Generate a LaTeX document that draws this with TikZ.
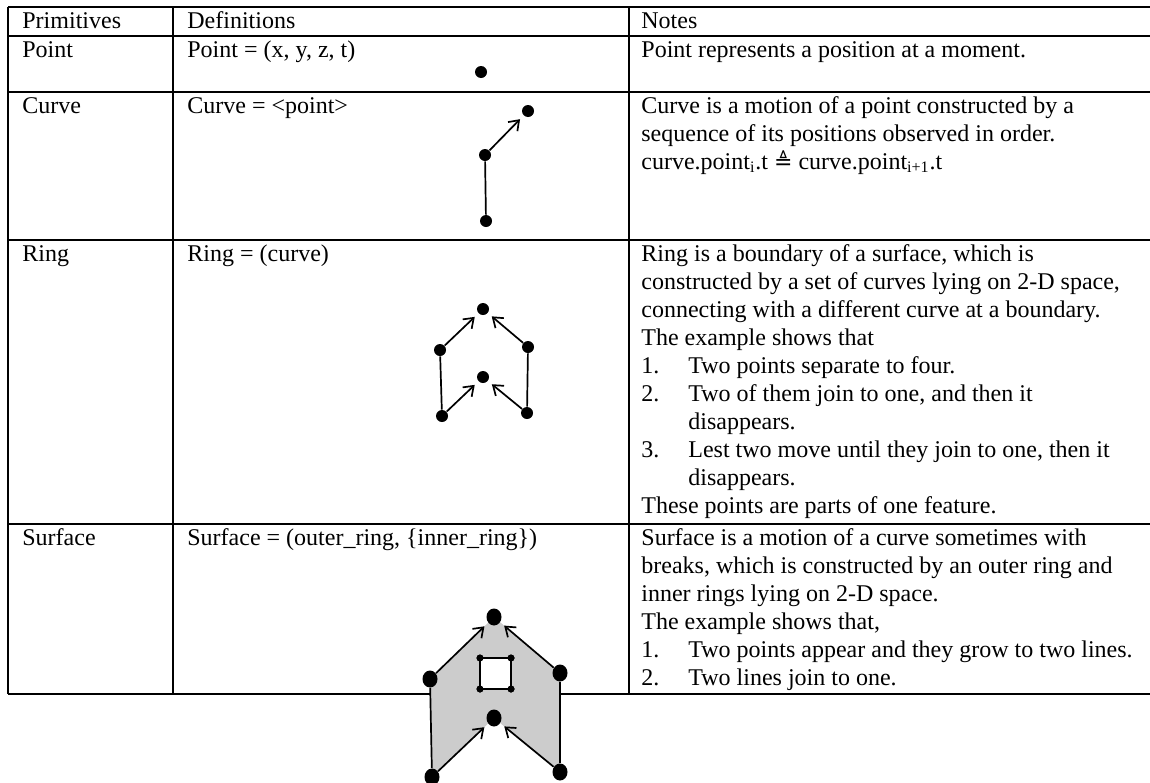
\documentclass[tikz,border=0pt]{standalone}
\usepackage{fontspec}
\setmainfont{Liberation Serif}
\newfontfamily\symfont{DejaVu Sans}
\usetikzlibrary{arrows.meta,shapes.geometric}
\tikzset{
	txt/.style={anchor=base west, inner sep=0pt, font=\fontsize{12}{14}\selectfont},
	rule/.style={line width=0.9pt},
	seg/.style={line width=0.85pt},
	arr/.style={seg, -{Straight Barb[length=4.5pt,width=6.5pt]}, shorten >=2.5pt},
	dot/.style={circle, fill=black, inner sep=0pt, minimum size=6pt},
	bigdot/.style={ellipse, fill=black, inner sep=0pt, minimum width=7.5pt, minimum height=8.5pt},
	tinydot/.style={circle, fill=black, inner sep=0pt, minimum size=3.5pt},
}
\newcommand\itm[2]{\makebox[23.5pt][l]{#1}#2}
\begin{document}
\begin{tikzpicture}[x=0.5pt, y=-0.5pt]
	\useasboundingbox (0,0) rectangle (1150,782);
	% table
	\foreach \h in {7,36,92,240,524,694}
		\draw[rule] (8,\h) -- (1150,\h);
	\foreach \v in {8,173,629}
		\draw[rule] (\v,7) -- (\v,694);
	% header and first column
	\path
		(22,28) node[txt] (hPrim) {Primitives}
		(187,28) node[txt] (hDef) {Definitions}
		(641,28) node[txt] (hNote) {Notes}
		(22,57) node[txt] (pName) {Point}
		(22,113) node[txt] (cName) {Curve}
		(22,261) node[txt] (rName) {Ring}
		(22,545) node[txt] (sName) {Surface}
	;
	% definitions
	\path
		(187,57) node[txt] (pDef) {Point = (x, y, z, t)}
		(187,113) node[txt] (cDef) {Curve = <point>}
		(187,261) node[txt] (rDef) {Ring = (curve)}
		(187,545) node[txt] (sDef) {Surface = (outer\_ring, \{inner\_ring\})}
	;
	% notes
	\node[txt] (pNote) at (641,57) {Point represents a position at a moment.};
	\foreach \t [count=\k from 0] in {
		{Curve is a motion of a point constructed by a},
		{sequence of its positions observed in order.},
		{curve.point\textsubscript{i}.t {\symfont\fontsize{11}{14}\selectfont ≜} curve.point\textsubscript{i+1}.t}}
		\node[txt] (cNote\k) at (641,113+28*\k) {\t};
	\foreach \t [count=\k from 0] in {
		{Ring is a boundary of a surface, which is},
		{constructed by a set of curves lying on 2-D space,},
		{connecting with a different curve at a boundary.},
		{The example shows that},
		{\itm{1.}{Two points separate to four.}},
		{\itm{2.}{Two of them join to one, and then it}},
		{\itm{}{disappears.}},
		{\itm{3.}{Lest two move until they join to one, then it}},
		{\itm{}{disappears.}},
		{These points are parts of one feature.}}
		\node[txt] (rNote\k) at (641,261+28*\k) {\t};
	\foreach \t [count=\k from 0] in {
		{Surface is a motion of a curve sometimes with},
		{breaks, which is constructed by an outer ring and},
		{inner rings lying on 2-D space.},
		{The example shows that,},
		{\itm{1.}{Two points appear and they grow to two lines.}},
		{\itm{2.}{Two lines join to one.}}}
		\node[txt] (sNote\k) at (641,545+28*\k) {\t};
	% point
	\node[dot] (pt) at (481,72) {};
	% curve
	\path
		(528,111) node[dot] (cTop) {}
		(485,155) node[dot] (cMid) {}
		(486,221) node[dot] (cBot) {}
	;
	\draw[seg] (cBot) -- (cMid);
	\draw[arr] (cMid) -- (cTop);
	% ring
	\path
		(483,309) node[dot] (rT) {}
		(440,350) node[dot] (rLU) {}
		(528,347) node[dot] (rRU) {}
		(483,377) node[dot] (rM) {}
		(442,416) node[dot] (rLL) {}
		(527,413) node[dot] (rRL) {}
	;
	\draw[seg] (rLL) -- (rLU);
	\draw[seg] (rRL) -- (rRU);
	\draw[arr] (rLU) -- (rT);
	\draw[arr] (rRU) -- (rT);
	\draw[arr] (rLL) -- (rM);
	\draw[arr] (rRL) -- (rM);
	% surface
	\path
		(494,617) coordinate (pT)
		(430,679) coordinate (pLU)
		(560,673) coordinate (pRU)
		(494,718) coordinate (pM)
		(432,777) coordinate (pLL)
		(560,772) coordinate (pRL)
	;
	\fill[black!20] (pLL) -- (pLU) -- (pT) -- (pRU) -- (pRL) -- (pM) -- cycle;
	\path
		(480,658) node[tinydot] (q1) {}
		(511,658) node[tinydot] (q2) {}
		(511,689) node[tinydot] (q3) {}
		(480,689) node[tinydot] (q4) {}
	;
	\draw[seg, fill=white] (q1.center) -- (q2.center) -- (q3.center) -- (q4.center) -- cycle;
	\foreach \q in {q1,q2,q3,q4}
		\node[tinydot] at (\q) {};
	\path
		(pT) node[bigdot] (sT) {}
		(pLU) node[bigdot] (sLU) {}
		(pRU) node[bigdot] (sRU) {}
		(pM) node[bigdot] (sM) {}
		(pLL) node[bigdot] (sLL) {}
		(pRL) node[bigdot] (sRL) {}
	;
	\draw[seg] (sLL) -- (sLU);
	\draw[seg] (sRL) -- (sRU);
	\draw[arr] (sLU) -- (sT);
	\draw[arr] (sRU) -- (sT);
	\draw[arr] (sLL) -- (sM);
	\draw[arr] (sRL) -- (sM);
\end{tikzpicture}
\end{document}
